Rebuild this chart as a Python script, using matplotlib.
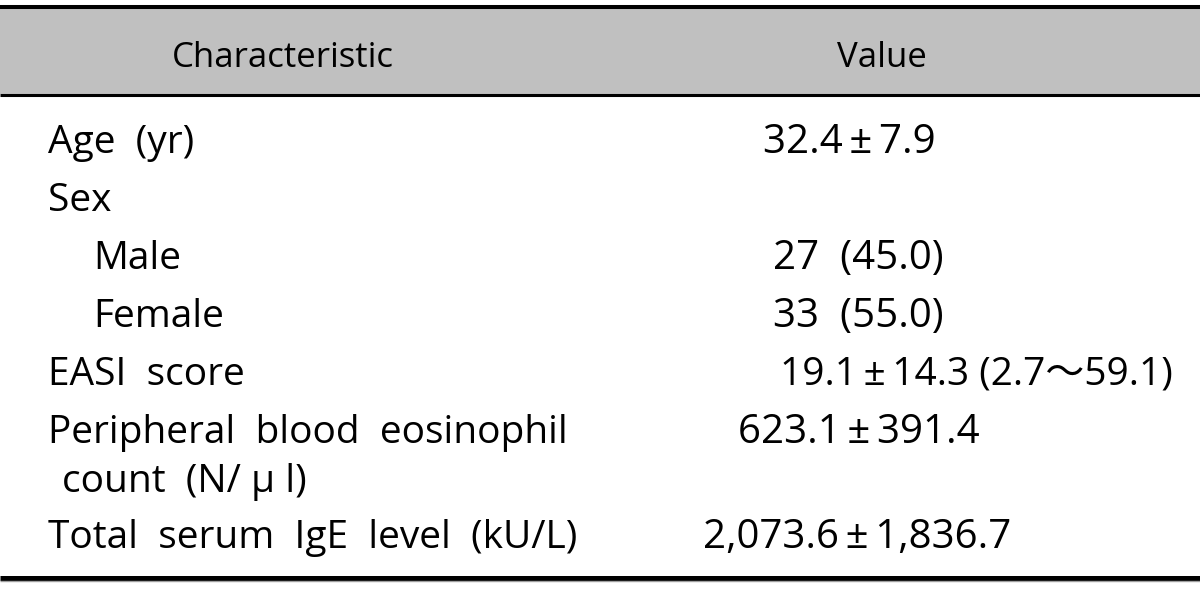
"""Table: baseline characteristics of patients (recreated as a matplotlib figure)."""
import matplotlib
matplotlib.use("Agg")
import matplotlib.pyplot as plt
from matplotlib.patches import Rectangle

plt.rcParams["font.family"] = ["Open Sans", "Noto Sans CJK KR", "DejaVu Sans"]

HEADERS = ["Characteristic", "Value"]
ROW_LABELS = [
    "Age  (yr)",
    "Sex",
    "Male",
    "Female",
    "EASI  score",
    "Peripheral  blood  eosinophil",
    "count  (N/ \u03bc l)",
    "Total  serum  IgE  level  (kU/L)",
]
PM = "\u2009\u00b1\u2009"
ROW_VALUES = [
    "32.4" + PM + "7.9",
    "",
    "27  (45.0)",
    "33  (55.0)",
    "19.1" + PM + "14.3 (2.7\uff5e59.1)",
    "623.1" + PM + "391.4",
    "",
    "2,073.6" + PM + "1,836.7",
]
INDENT = [0, 0, 1, 1, 0, 0, 2, 0]


def main() -> None:
    fig = plt.figure(figsize=(12, 5.89), dpi=100)
    ax = fig.add_axes([0, 0, 1, 1])
    ax.set_xlim(0, 1200)
    ax.set_ylim(589, 0)
    ax.axis("off")

    # header band and rules
    ax.add_patch(Rectangle((0, 8), 1200, 86, facecolor="#c0c0c0", edgecolor="none"))
    ax.plot([0, 1200], [7, 7], color="black", lw=2.9, solid_capstyle="butt")
    ax.plot([0, 1200], [94.5, 94.5], color="black", lw=2.2, solid_capstyle="butt")
    ax.plot([0, 1200], [577.5, 577.5], color="black", lw=3.6, solid_capstyle="butt")
    ax.plot([0, 1200], [581, 581], color="#a0a0a0", lw=1.0, solid_capstyle="butt")

    hfs, fs, vfs = 25, 28, 29
    ax.text(283, 67, HEADERS[0], ha="center", va="baseline", fontsize=hfs)
    ax.text(882, 67, HEADERS[1], ha="center", va="baseline", fontsize=hfs)

    row_y = [153, 211, 269, 327, 385, 443, 492, 548]
    indent_x = {0: 48, 1: 93, 2: 62}
    val_x = [763, 0, 773, 773, 780, 738, 0, 703]
    for lab, val, ind, y, vx in zip(ROW_LABELS, ROW_VALUES, INDENT, row_y, val_x):
        ax.text(indent_x[ind], y, lab, ha="left", va="baseline", fontsize=fs)
        if val:
            ax.text(vx, y, val, ha="left", va="baseline",
                    fontsize=fs if vx == 780 else vfs)

    fig.savefig("out.png", dpi=100)


if __name__ == "__main__":
    main()
